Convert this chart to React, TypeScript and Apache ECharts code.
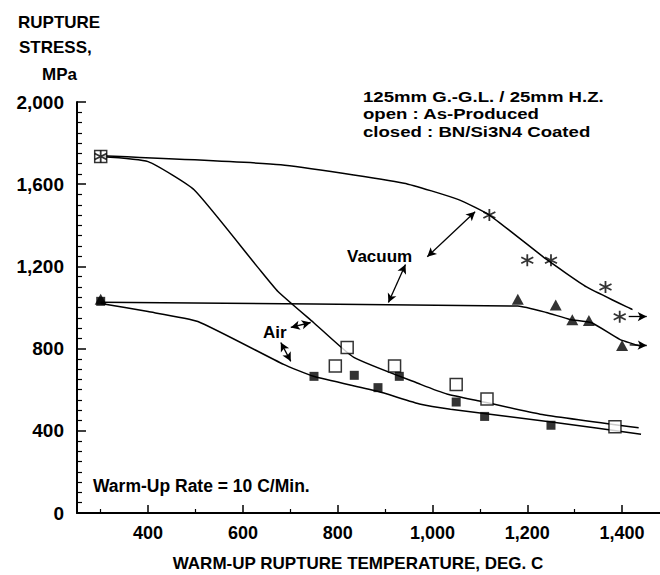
import React, { useEffect, useRef } from "react";
import * as echarts from "echarts";

const FONT = "'Liberation Sans', Arial, Helvetica, sans-serif";

// Axis
const X_MIN = 250;
const X_MAX = 1480;
const xLabelValues = [400, 600, 800, 1000, 1200, 1400];
const xMinorTickValues = [300, 500, 700, 900, 1100, 1300];
const Y_MIN = 0;
const Y_MAX = 2000;
const Y_INTERVAL = 400;

// Curves
const vacUpperX = [300, 680, 940, 1055, 1120, 1240, 1325, 1422];
const vacUpperY = [1738, 1695, 1605, 1525, 1450, 1235, 1100, 990];

const vacLowerX = [300, 1180, 1240, 1290, 1335, 1395, 1438];
const vacLowerY = [1025, 1007, 976, 942, 927, 845, 812];

const airUpperX = [300, 400, 497, 632, 674, 749, 834, 975, 1032, 1101, 1227, 1435];
const airUpperY = [1735, 1710, 1573, 1194, 1078, 927, 757, 626, 578, 544, 481, 415];

const airLowerX = [300, 400, 505, 686, 749, 884, 975, 1038, 1255, 1440];
const airLowerY = [1020, 980, 932, 723, 665, 592, 529, 505, 442, 383];

// Markers
const starPts = [[300, 1735], [1120, 1450], [1200, 1230], [1250, 1230], [1365, 1100], [1395, 955]];
const trianglePts = [[300, 1040], [1180, 1040], [1260, 1012], [1295, 940], [1330, 937], [1400, 815]];
const openSquarePts = [[300, 1735], [795, 715], [820, 805], [920, 715], [1050, 625], [1115, 555], [1385, 420]];
const filledSquarePts = [[300, 1030], [750, 665], [835, 670], [885, 610], [930, 665], [1050, 540], [1110, 470], [1250, 427]];

// Annotation arrows [x1, y1, x2, y2]
const doubleArrows = [
  [989, 1247, 1090, 1466],
  [943, 1209, 907, 1024],
  [701, 903, 743, 927],
  [680, 830, 701, 738],
];
const runoutArrows = [
  [1414, 956, 1452, 956],
  [1416, 818, 1452, 815],
];

const legendLines = ["125mm G.-G.L. / 25mm H.Z.", "open : As-Produced", "closed : BN/Si3N4 Coated"];

const zip = (xs: number[], ys: number[]) => xs.map((x, i) => [x, ys[i]]);
const fmt = (v: number) => v.toLocaleString("en-US");

const STAR =
  "path://M10,0 L10,20 M1.34,5 L18.66,15 M1.34,15 L18.66,5";

const lineSeries = (name: string, xs: number[], ys: number[], extra: any = {}) => ({
  type: "line",
  name,
  data: zip(xs, ys),
  showSymbol: false,
  symbol: "none",
  smooth: 0.15,
  lineStyle: { color: "#000", width: 1.5 },
  silent: true,
  z: 2,
  ...extra,
});

const txt = (
  text: string,
  x: number,
  y: number,
  size: number,
  weight: string,
  align = "left",
  scaleX = 1
) => ({
  type: "text",
  x,
  y,
  scaleX,
  silent: true,
  style: {
    text,
    x: 0,
    y: 0,
    fill: "#000",
    font: `${weight} ${size}px ${FONT}`,
    align,
    verticalAlign: "middle",
    textAlign: align,
    textVerticalAlign: "middle",
  },
});

export default function App() {
  const ref = useRef<HTMLDivElement>(null);
  useEffect(() => {
    const chart = echarts.init(ref.current!, null, { renderer: "svg" });
    const markLineData: any[] = [
      ...doubleArrows.map((a) => [
        { coord: [a[0], a[1]], symbol: "arrow" },
        { coord: [a[2], a[3]], symbol: "arrow" },
      ]),
      ...runoutArrows.map((a) => [
        { coord: [a[0], a[1]], symbol: "none" },
        { coord: [a[2], a[3]], symbol: "arrow" },
      ]),
    ];
    const option: any = {
      animation: false,
      backgroundColor: "#fff",
      textStyle: { fontFamily: FONT },
      grid: { left: 77, right: 0, top: 102, bottom: 62, containLabel: false },
      xAxis: [
        {
          type: "value",
          min: X_MIN,
          max: X_MAX,
          position: "bottom",
          axisLine: { show: true, lineStyle: { color: "#000", width: 2 } },
          axisTick: {
            show: true,
            inside: true,
            length: 8,
            customValues: xLabelValues,
            lineStyle: { color: "#000", width: 1.5 },
          },
          axisLabel: {
            show: true,
            customValues: xLabelValues,
            formatter: fmt,
            color: "#000",
            fontSize: 18,
            fontWeight: "bold",
            fontFamily: FONT,
            margin: 11,
          },
          splitLine: { show: false },
        },
        {
          type: "value",
          min: X_MIN,
          max: X_MAX,
          position: "bottom",
          axisLine: { show: false },
          axisTick: {
            show: true,
            inside: true,
            length: 4,
            customValues: xMinorTickValues,
            lineStyle: { color: "#000", width: 1.2 },
          },
          axisLabel: { show: false, customValues: xMinorTickValues },
          splitLine: { show: false },
        },
      ],
      yAxis: {
        type: "value",
        min: Y_MIN,
        max: Y_MAX,
        interval: Y_INTERVAL,
        axisLine: { show: true, lineStyle: { color: "#000", width: 2 } },
        axisTick: { show: true, inside: true, length: 9, lineStyle: { color: "#000", width: 1.5 } },
        minorTick: { show: true, splitNumber: 8, length: 5, lineStyle: { color: "#000", width: 1.2 } },
        axisLabel: {
          formatter: fmt,
          color: "#000",
          fontSize: 19,
          fontWeight: "bold",
          fontFamily: FONT,
          margin: 13,
        },
        splitLine: { show: false },
        minorSplitLine: { show: false },
      },
      series: [
        lineSeries("vacUpper", vacUpperX, vacUpperY, {
          markLine: {
            silent: true,
            animation: false,
            symbolSize: [7, 9],
            label: { show: false },
            emphasis: { disabled: true },
            lineStyle: { color: "#000", width: 1.3, type: "solid" },
            data: markLineData,
          },
        }),
        lineSeries("vacLower", vacLowerX, vacLowerY),
        lineSeries("airUpper", airUpperX, airUpperY),
        lineSeries("airLower", airLowerX, airLowerY),
        {
          type: "scatter",
          name: "open",
          data: openSquarePts,
          symbol: "rect",
          symbolSize: 12,
          itemStyle: { color: "#fff", borderColor: "#000", borderWidth: 1.5 },
          silent: true,
          z: 3,
        },
        {
          type: "scatter",
          name: "filled",
          data: filledSquarePts,
          symbol: "rect",
          symbolSize: 9,
          itemStyle: { color: "#000" },
          silent: true,
          z: 3,
        },
        {
          type: "scatter",
          name: "triangle",
          data: trianglePts,
          symbol: "triangle",
          symbolSize: [12, 11],
          itemStyle: { color: "#000" },
          silent: true,
          z: 3,
        },
        {
          type: "scatter",
          name: "star",
          data: starPts,
          symbol: STAR,
          symbolSize: 12,
          itemStyle: { color: "none", borderColor: "#000", borderWidth: 1.8 },
          silent: true,
          z: 4,
        },
      ],
      graphic: [
        txt("RUPTURE", 18, 22, 17, "bold"),
        txt("STRESS,", 19, 47, 17, "bold"),
        txt("MPa", 42, 74, 17, "bold"),
        txt(legendLines[0], 363, 97, 15.5, "bold", "left", 1.2),
        txt(legendLines[1], 363, 114.5, 15.5, "bold", "left", 1.2),
        txt(legendLines[2], 363, 132, 15.5, "bold", "left", 1.2),
        txt("Vacuum", 347, 256, 17, "bold"),
        txt("Air", 263, 332, 17, "bold"),
        txt("Warm-Up Rate = 10 C/Min.", 93, 486, 17.5, "bold"),
        txt("WARM-UP RUPTURE TEMPERATURE, DEG. C", 358, 563, 17, "bold", "center"),
      ],
    };
    chart.setOption(option);
    return () => chart.dispose();
  }, []);
  return (
    <div
      ref={ref}
      style={{ position: "absolute", left: 0, top: 0, width: 660, height: 575, background: "#fff" }}
    />
  );
}
